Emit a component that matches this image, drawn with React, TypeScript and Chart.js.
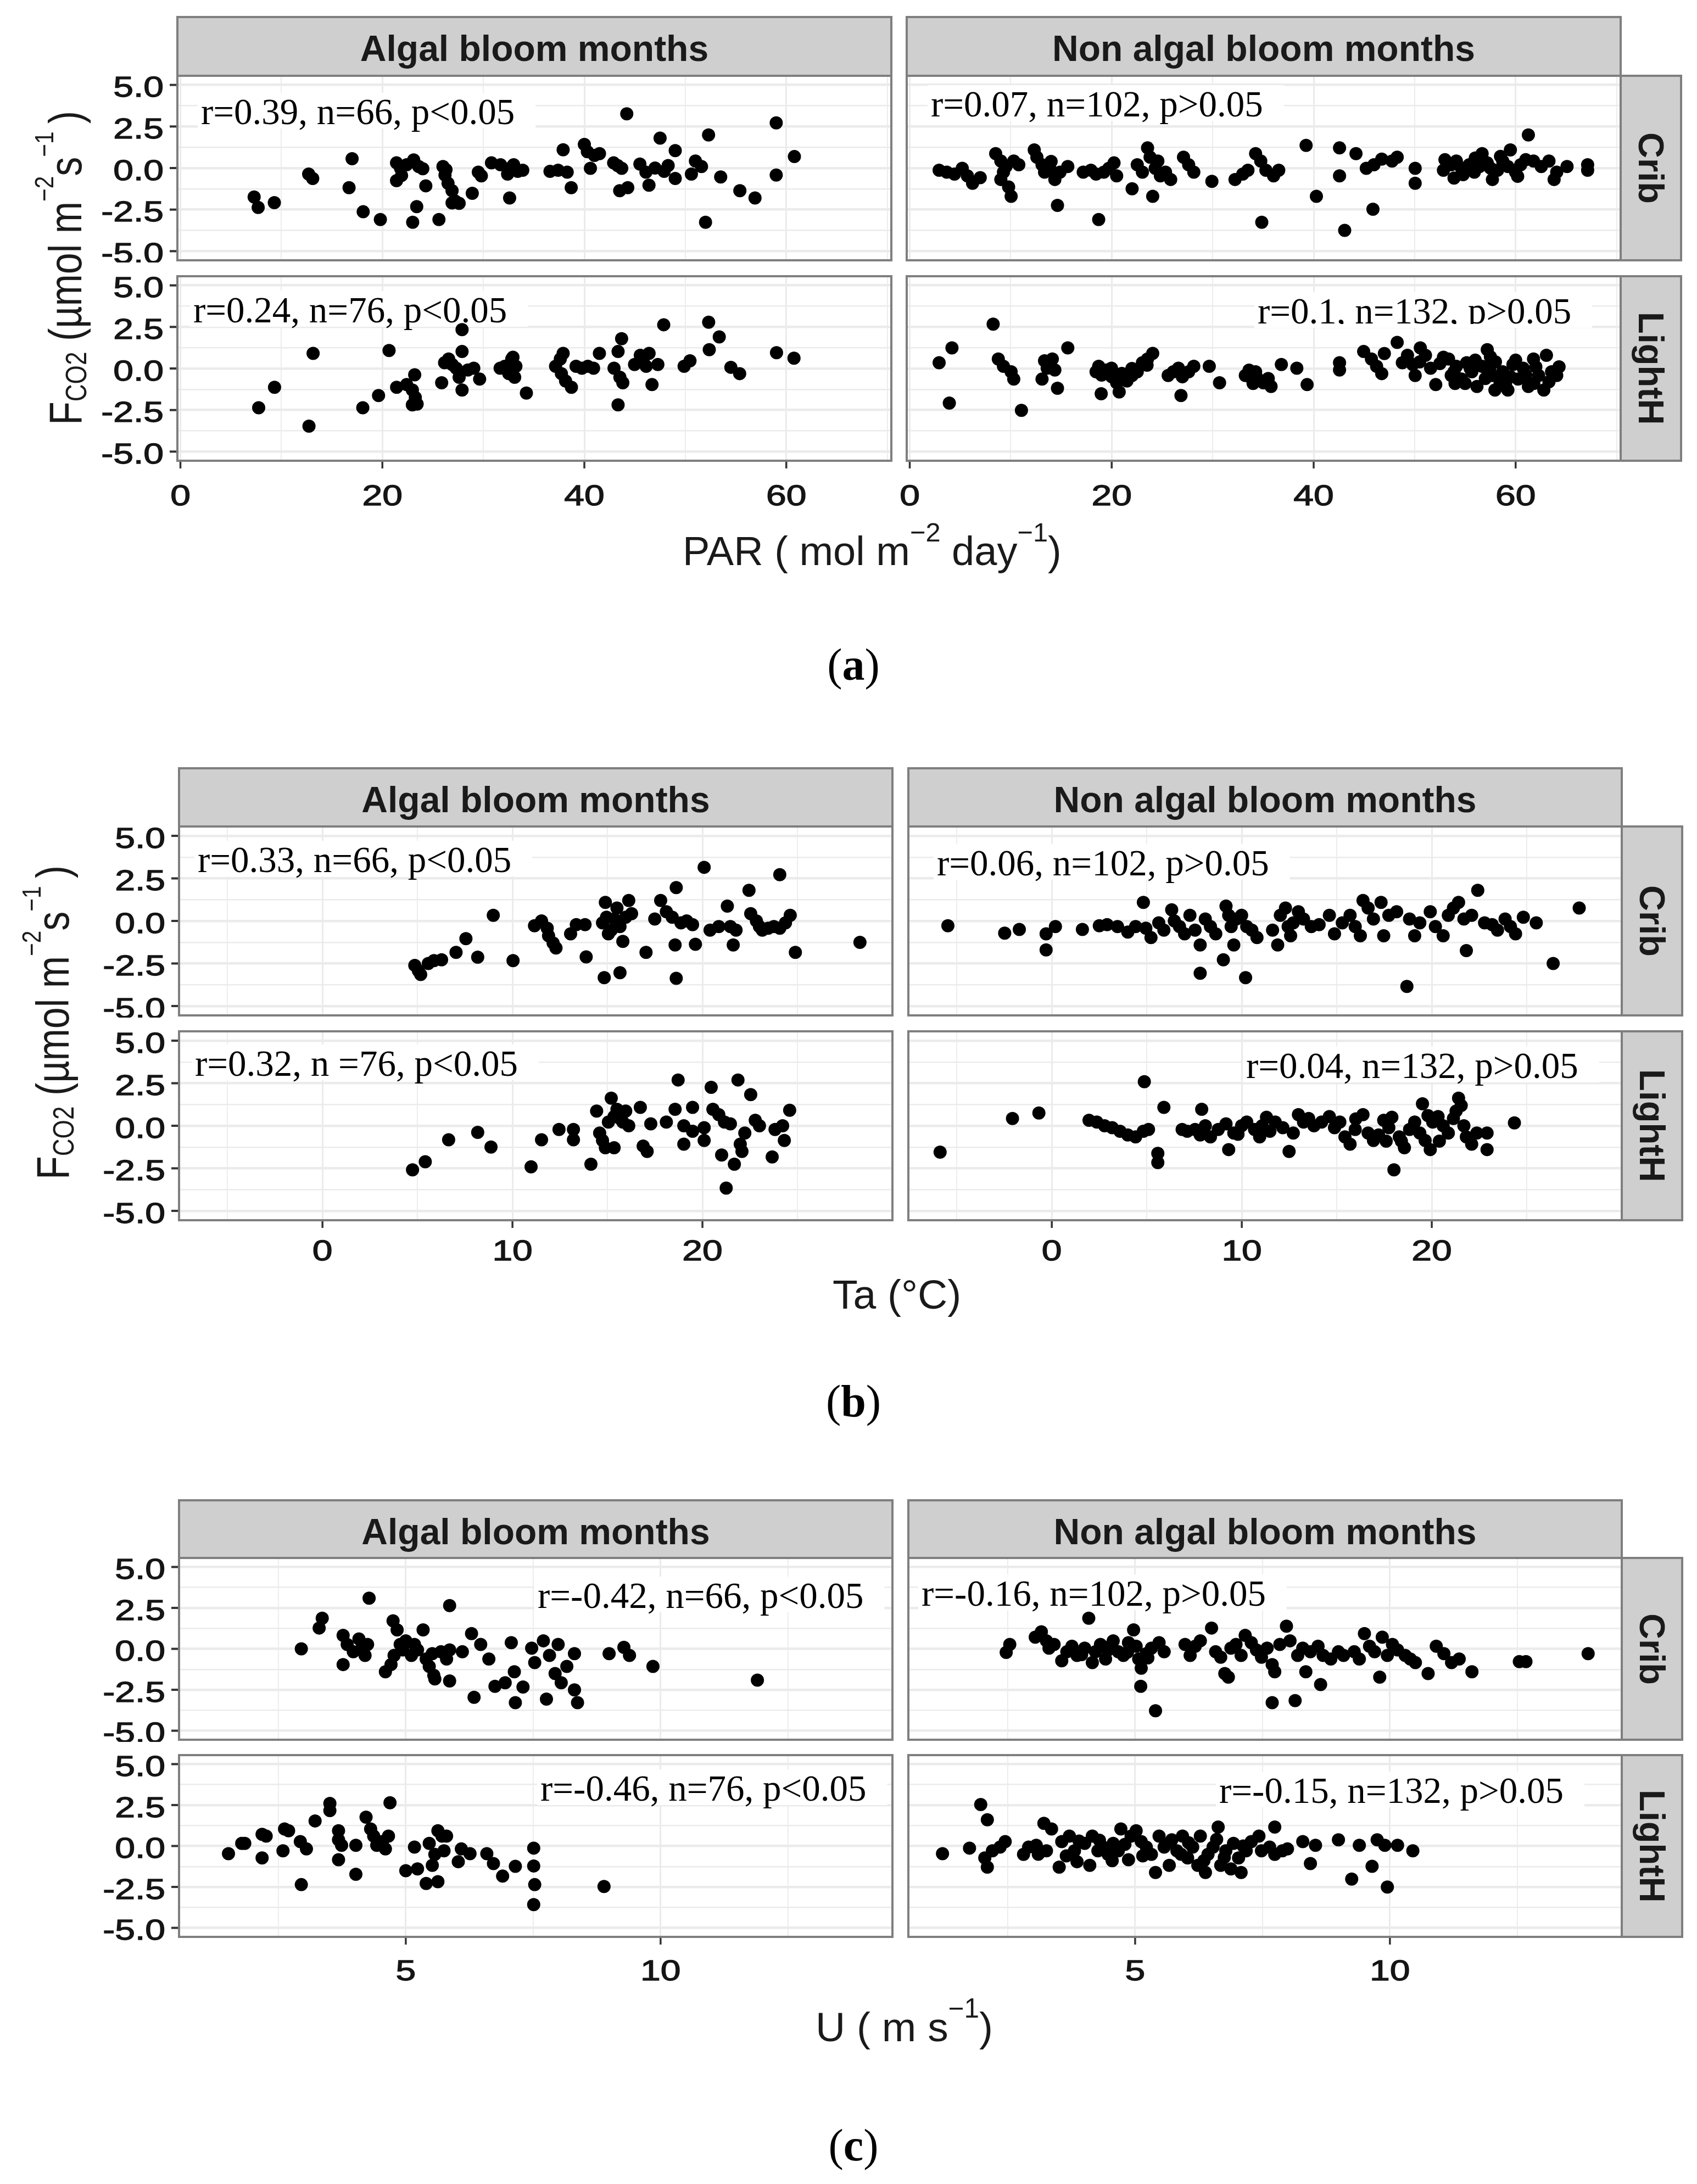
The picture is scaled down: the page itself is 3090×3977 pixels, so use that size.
import React, { useEffect, useRef } from 'react';
import { Chart, registerables } from 'chart.js';
Chart.register(...registerables);

type Pt = [number, number];

// ---------------- data ----------------
const columns = ['Algal bloom months', 'Non algal bloom months'];
const rows = ['Crib', 'LightH'];

const yTicks = [-5, -2.5, 0, 2.5, 5];
const yMinor = [-3.75, -1.25, 1.25, 3.75];
const fluxRange = [-5.55, 5.55];

const parTicks = [0, 20, 40, 60];
const parMinor = [10, 30, 50, 70];
const parRange = [-0.3, 70.4];
const taTicks = [0, 10, 20];
const taMinor = [-5, 5, 15, 25];
const taRange = [-7.55, 30.0];
const uTicks = [5, 10];
const uMinor = [2.5, 7.5, 12.5];
const uRange = [0.55, 14.55];

const statsA = ['r=0.39, n=66, p<0.05', 'r=0.07, n=102, p>0.05', 'r=0.24, n=76, p<0.05', 'r=0.1, n=132, p>0.05'];
const statsB = ['r=0.33, n=66, p<0.05', 'r=0.06, n=102, p>0.05', 'r=0.32, n =76, p<0.05', 'r=0.04, n=132, p>0.05'];
const statsC = ['r=-0.42, n=66, p<0.05', 'r=-0.16, n=102, p>0.05', 'r=-0.46, n=76, p<0.05', 'r=-0.15, n=132, p>0.05'];

// (a) PAR
const aCribAlgal: Pt[] = [
  [7.3,-1.74],[7.7,-2.37],[9.3,-2.08],[12.7,-0.36],[13.1,-0.63],[17.0,0.56],[16.7,-1.18],[18.1,-2.63],[19.8,-3.1],
  [21.4,0.31],[21.8,-0.02],[21.4,-0.76],[22.4,0.2],[23.1,0.49],[23.6,0.09],[24.0,-0.04],[21.9,-0.45],
  [23.0,-3.26],[23.4,-2.32],[24.3,-1.07],[25.6,-3.1],
  [26.0,0.09],[26.2,-0.42],[26.5,-0.92],[26.9,-1.36],[27.2,-1.98],[27.6,-2.12],[26.9,-2.1],[26.3,-0.1],
  [28.9,-1.52],[29.5,-0.25],[29.8,-0.47],
  [30.8,0.31],[31.7,0.2],[32.6,-0.02],[33.0,0.2],[32.6,-1.8],[33.4,-0.2],[33.9,-0.13],[32.4,-0.36],
  [36.6,-0.2],[37.4,-0.13],[37.9,1.1],[38.3,-0.25],[38.7,-1.18],
  [40.0,1.42],[40.3,0.98],[40.6,-0.02],[41.0,0.76],[41.5,0.87],
  [42.9,0.31],[43.3,0.15],[43.7,-0.02],[43.5,-1.36],[44.3,-1.18],[44.2,3.26],
  [45.5,0.24],[46.1,-0.25],[46.4,-1.03],[47.0,0.0],[47.5,1.8],[47.9,-0.2],[48.3,0.15],[49.0,1.05],[49.0,-0.63],
  [50.6,-0.36],[51.0,0.42],[51.6,0.09],[52.3,1.99],[52.0,-3.26],[53.5,-0.54],[55.4,-1.36],[56.9,-1.8],[59.0,2.72],[59.0,-0.42],[60.8,0.69]
];
const aCribNon: Pt[] = [
  [2.91,-0.13],[3.67,-0.25],[4.43,-0.36],[5.2,-0.02],[5.71,-0.47],[6.22,-0.92],[6.98,-0.58],[8.51,0.87],[9.02,0.42],[9.53,0.09],
  [9.02,-0.69],[9.79,-1.14],[10.04,-1.7],[9.28,-0.25],[10.3,0.42],[12.33,1.09],[12.59,0.65],[13.1,0.2],[13.35,-0.25],[13.86,-0.02],
  [14.37,-0.69],[14.63,-2.25],[14.88,-0.25],[15.65,0.09],[18.71,-3.1],[17.18,-0.25],[17.94,-0.13],[18.45,-0.36],[19.22,-0.25],[19.72,-0.02],
  [20.23,0.31],[20.49,-0.47],[22.02,-1.25],[22.53,0.2],[23.04,-0.25],[23.55,1.21],[23.8,0.65],[24.06,-1.7],[24.31,-0.02],[24.57,0.42],
  [24.82,-0.47],[25.33,-0.25],[25.84,-0.69],[27.11,0.65],[27.62,0.2],[28.13,-0.25],[29.92,-0.8],[32.21,-0.69],[32.98,-0.36],[33.49,-0.13],
  [34.25,0.87],[34.76,0.42],[35.27,-0.13],[36.03,-0.47],[36.54,-0.13],[34.86,-3.26],[39.25,1.36],[40.27,-1.7],[42.56,1.21],[42.56,-0.47],
  [44.19,0.87],[43.07,-3.75],[45.87,-2.48],[45.21,-0.02],[45.97,0.2],[46.74,0.54],[47.76,0.42],[48.27,0.65],[50.05,-0.02],[50.05,-0.92],
  [52.85,-0.13],[53.62,0.2],[54.13,0.42],[54.64,-0.02],[55.4,0.2],[55.91,-0.25],[56.42,0.09],[56.68,0.87],[57.19,0.31],[57.7,-0.69],
  [58.21,-0.13],[58.72,0.42],[59.23,0.09],[59.48,1.09],[59.99,-0.25],[60.5,0.2],[61.26,1.99],[61.77,0.42],[62.54,0.09],[63.3,0.42],
  [63.81,-0.69],[64.07,-0.25],[65.09,0.09],[67.13,0.2],[67.13,-0.13],
  [53.0,0.5],[54.8,-0.4],[56.0,0.6],[57.5,0.0],[58.5,0.7],[60.2,-0.5],[61.0,0.5],[53.9,-0.6],[10.8,0.2],[14.0,0.4]
];
const aLightAlgal: Pt[] = [
  [7.75,-2.36],[9.32,-1.13],[12.73,-3.47],[13.14,0.91],[18.06,-2.36],[19.62,-1.63],[20.66,1.08],[21.41,-1.13],[22.4,-0.97],[22.97,-1.3],
  [23.2,-0.38],[23.26,-1.74],[22.97,-2.19],[23.44,-2.14],[25.87,-0.86],[26.16,0.35],[26.56,0.57],[26.91,0.24],[27.31,0.02],[27.6,-0.53],
  [27.89,1.02],[27.89,2.34],[27.89,-1.3],[28.47,-0.09],[29.05,0.02],[29.63,-0.64],[31.66,0.02],[32.12,0.13],[32.52,-0.31],[32.81,0.57],
  [33.1,-0.53],[33.22,0.13],[32.93,0.68],[34.26,-1.48],[37.15,0.13],[37.62,0.57],[37.73,-0.31],[38.14,-0.75],[38.72,-1.13],[37.9,0.91],
  [39.18,0.13],[39.76,0.02],[40.34,0.13],[40.91,0.02],[41.49,0.91],[42.94,0.02],[43.34,1.02],[43.69,1.79],[43.52,-0.53],[43.81,-0.86],
  [43.34,-2.19],[44.97,0.24],[45.54,0.79],[45.83,0.57],[46.12,0.13],[46.41,0.91],[46.7,-0.97],[47.28,0.24],[47.86,2.63],[49.88,0.13],
  [50.46,0.46],[52.31,2.78],[52.37,1.13],[53.36,1.9],[54.51,0.07],[55.38,-0.31],[59.03,0.95],[60.76,0.62]
];
const aLightNon: Pt[] = [
  [2.91,0.35],[4.18,1.24],[3.92,-2.08],[8.26,2.67],[8.77,0.57],[9.28,0.13],[10.04,-0.2],[10.3,-0.64],[11.06,-2.52],[13.1,-0.64],
  [13.35,0.46],[13.61,0.02],[14.12,0.57],[14.37,-0.09],[14.63,-1.19],[15.65,1.24],[18.45,-0.2],[18.71,0.13],[18.96,-1.52],[19.47,-0.09],
  [19.98,0.02],[20.49,-0.86],[20.74,-1.41],[21.51,-0.75],[22.02,-0.42],[22.53,-0.2],[23.04,0.35],[23.55,0.57],[24.06,0.91],[25.59,-0.42],
  [26.1,-0.2],[26.61,0.02],[26.86,-1.63],[27.62,-0.2],[28.13,0.13],[29.66,0.13],[30.68,-0.86],[33.23,-0.42],[33.74,-0.53],[34.25,-0.2],
  [34.51,-0.64],[35.02,-0.86],[35.78,-1.08],[36.8,0.24],[38.33,0.02],[39.35,-0.97],[42.56,0.35],[42.56,-0.09],[44.95,1.02],[45.72,0.57],
  [46.23,0.13],[46.74,-0.31],[48.27,1.57],[48.78,0.35],[49.29,0.79],[49.8,0.24],[50.05,-0.42],[50.56,1.24],[51.07,0.79],[51.58,0.02],
  [52.09,-0.97],[52.85,0.68],[53.36,0.57],[53.62,-0.42],[54.13,0.13],[54.64,-0.64],[55.15,0.35],[55.66,-0.2],[56.17,-1.08],[56.68,0.13],
  [57.19,1.13],[57.44,0.02],[57.7,-0.42],[57.95,-1.3],[58.46,-0.86],[58.72,-0.2],[59.23,-1.3],[59.73,0.24],[60.24,-0.64],[60.75,0.02],
  [61.26,-1.08],[61.77,0.57],[62.28,-0.42],[62.79,-1.3],[63.05,0.79],[63.56,-0.2],[64.07,-0.42],
  [52.5,0.3],[53.9,-0.2],[55.0,-0.9],[56.0,0.5],[57.0,-0.6],[58.0,0.4],[59.0,-0.9],[60.0,0.5],[61.0,-0.4],[62.0,0.1],
  [63.3,-0.8],[64.3,0.1],[59.5,-0.5],[57.5,0.7],[55.5,0.0],[54.0,-0.9],[22.0,0.0],[20.0,-0.5],[34.0,-0.9],[47.0,0.9],
  [19.0,-0.4],[21.0,-0.3],[23.5,0.2],[27.0,-0.5],[33.6,-0.1],[35.5,-0.6],[50.5,0.4],[61.8,-0.9]
];

// (b) Ta
const bCribAlgal: Pt[] = [
  [4.86,-2.61],[5.05,-2.93],[5.17,-3.15],[5.57,-2.5],[5.87,-2.33],[6.27,-2.28],[7.03,-1.85],[7.55,-1.04],[8.17,-2.13],[8.99,0.33],
  [10.03,-2.33],[11.16,-0.28],[11.53,0],[11.83,-0.43],[11.9,-0.87],[12.14,-1.3],[12.29,-1.59],[13.06,-0.76],[13.36,-0.22],[13.82,-0.22],
  [13.88,-2.11],[14.74,-0.11],[14.89,1.09],[14.95,0.22],[15.05,-0.76],[15.2,-0.54],[15.35,0.11],[15.5,0.76],[15.66,-0.33],[15.81,-1.2],
  [15.96,0.22],[16.12,1.2],[16.27,0.43],[14.83,-3.33],[15.66,-3.04],[17.03,-1.85],[17.49,0.11],[17.8,1.2],[18.1,0.54],[18.41,0.22],
  [18.56,-1.41],[18.62,1.96],[18.62,-3.37],[18.87,-0.11],[19.17,0],[19.48,-0.22],[19.63,-1.37],[20.09,3.15],[20.4,-0.54],[20.86,-0.33],
  [21.31,0.87],[21.47,-0.33],[21.62,-1.41],[21.77,-0.54],[22.45,1.8],[22.54,0.43],[22.84,0],[23.0,-0.33],[23.15,-0.54],[23.46,-0.43],
  [23.76,-0.33],[24.07,-0.43],[24.37,-0.11],[24.62,0.33],[24.07,2.72],[24.89,-1.85],[28.29,-1.26]
];
const bCribNon: Pt[] = [
  [-5.47,-0.28],[-2.48,-0.72],[-1.71,-0.5],[-0.3,-0.76],[-0.3,-1.7],[0.19,-0.33],[1.61,-0.5],[2.5,-0.28],[2.91,-0.22],[3.46,-0.33],
  [4.0,-0.65],[4.41,-0.33],[4.82,1.09],[4.95,-0.43],[5.22,-0.98],[5.63,-0.11],[5.9,-0.54],[6.31,0.65],[6.45,0],[6.72,-0.33],
  [6.99,-0.76],[7.27,0.33],[7.54,-0.54],[7.81,-1.41],[7.81,-3.07],[8.08,0.11],[8.35,-0.33],[8.63,-0.76],[9.03,-2.28],[9.17,0.87],
  [9.31,0.33],[9.44,-0.33],[9.58,-1.41],[9.71,0.11],[9.99,0.33],[10.2,-3.33],[10.26,-0.33],[10.53,-0.54],[10.8,-0.98],[11.62,-0.54],
  [11.89,-1.41],[12.03,0.33],[12.3,0.76],[12.44,-0.33],[12.57,-0.87],[12.71,-0.11],[12.98,0.54],[13.25,0.11],[13.66,-0.33],[14.07,-0.22],
  [14.61,0.33],[14.88,-0.76],[15.29,-0.11],[15.7,0.33],[15.97,-0.33],[16.24,-0.87],[16.38,1.2],[16.65,0.76],[16.93,0.11],[17.33,1.09],
  [17.47,-0.87],[17.74,0.33],[18.15,0.54],[18.69,-3.85],[18.83,0.11],[19.1,-0.87],[19.37,-0.11],[19.92,0.54],[20.19,-0.33],[20.6,-0.87],
  [20.87,0.33],[21.14,0.76],[21.41,1.09],[21.69,0.11],[21.82,-1.74],[22.1,0.33],[22.42,1.8],[22.78,-0.11],[23.18,-0.22],[23.46,-0.54],
  [23.86,0.11],[24.14,-0.33],[24.41,-0.76],[24.82,0.22],[25.5,-0.11],[26.39,-2.5],[27.76,0.76]
];
const bLightAlgal: Pt[] = [
  [4.74,-2.59],[5.41,-2.11],[6.64,-0.82],[8.17,-0.39],[8.87,-1.25],[10.98,-2.41],[11.53,-0.82],[12.45,-0.22],[13.21,-0.22],[13.21,-0.82],
  [14.13,-2.26],[14.43,0.86],[14.59,-0.43],[14.74,-0.86],[14.89,-1.29],[15.05,0.22],[15.2,1.62],[15.35,0.54],[15.5,0.97],[15.66,0.43],
  [15.81,0.22],[15.96,0.86],[16.12,0],[15.35,-1.29],[16.73,1.08],[16.88,-1.19],[17.09,-1.51],[17.28,0.11],[18.1,0.22],[18.56,0.97],
  [18.72,2.69],[19.02,0],[19.02,-1.08],[19.48,1.08],[19.48,-0.32],[20.09,-0.11],[20.09,-0.86],[20.46,2.26],[20.55,0.97],[20.86,0.65],
  [21.01,-1.72],[21.16,0.22],[21.25,-3.66],[21.47,0.11],[21.68,-2.26],[21.87,2.69],[21.99,-1.08],[22.08,-1.51],[22.23,-0.43],[22.54,1.83],
  [22.78,0.32],[23.0,0],[23.67,-1.83],[23.82,-0.22],[24.22,0],[24.31,-0.86],[24.59,0.91]
];
const bLightNon: Pt[] = [
  [-5.88,-1.55],[-2.07,0.43],[-0.68,0.75],[1.96,0.32],[2.37,0.22],[2.78,0],[3.18,-0.11],[3.59,-0.32],[4.0,-0.54],[4.41,-0.65],
  [4.82,-0.32],[4.87,2.59],[5.09,-0.22],[5.58,-1.62],[5.58,-2.16],[5.9,1.08],[6.86,-0.22],[7.13,-0.32],[7.54,-0.22],[7.81,-0.54],
  [7.89,0.97],[8.08,0],[8.35,-0.65],[8.76,-0.22],[9.17,0.11],[9.31,-1.4],[9.58,-0.43],[9.99,0],[10.26,0.22],[10.67,-0.22],
  [10.94,-0.65],[11.07,0],[11.48,-0.32],[11.76,0.22],[12.16,-0.11],[12.49,-1.51],[12.71,-0.43],[12.98,0.65],[13.25,0.22],[13.52,0.43],
  [13.8,0],[14.2,0.22],[14.61,0.54],[14.88,-0.11],[15.16,0.22],[15.43,-0.65],[15.7,-1.08],[15.97,-0.22],[16.38,0.65],[16.65,-0.43],
  [16.93,-0.86],[17.2,-0.54],[17.47,0.32],[17.74,-0.11],[18.01,-2.59],[18.29,-0.65],[18.56,-1.29],[18.83,-0.22],[19.1,0.22],[19.37,-0.43],
  [19.51,1.29],[19.65,-0.86],[19.92,-1.4],[20.05,0.22],[20.33,0.54],[20.6,0],[20.87,-0.43],[21.14,0.43],[21.28,0.86],[21.41,1.62],
  [21.55,1.19],[21.69,0],[21.82,-0.65],[22.1,-1.08],[22.37,-0.43],[22.91,-1.4],[22.91,-0.43],[24.35,0.17],
  [17.6,-0.9],[18.4,-0.9],[19.8,0.6],[20.4,-0.9],[17.9,0.5],[16.0,0.4],[9.8,-0.5],[11.3,0.5]
];

// (c) U
const cCribAlgal: Pt[] = [
  [2.95,0],[3.3,1.27],[3.36,1.87],[3.77,0.82],[3.77,-0.96],[3.85,0.27],[3.97,-0.18],[4.08,0.6],[4.14,0.04],[4.2,-0.4],
  [4.25,0.27],[4.28,3.09],[4.6,-1.4],[4.71,-0.96],[4.75,1.71],[4.77,-0.4],[4.83,1.16],[4.89,0.27],[4.94,-0.07],[5.0,0.49],
  [5.11,-0.4],[5.17,0.27],[5.23,-0.07],[5.34,1.16],[5.4,-0.62],[5.46,-1.07],[5.52,-0.29],[5.55,-1.62],[5.57,-1.84],[5.69,-0.18],
  [5.8,-0.62],[5.86,-0.07],[5.86,-1.96],[5.86,2.64],[6.11,-0.18],[6.29,0.93],[6.34,-2.96],[6.47,0.27],[6.63,-0.62],[6.75,-2.29],
  [6.95,-2.07],[7.07,0.38],[7.13,-1.4],[7.15,-3.29],[7.3,-2.33],[7.47,0.04],[7.53,-0.84],[7.7,0.49],[7.76,-3.07],[7.82,-0.4],
  [7.93,-1.51],[7.99,0.27],[8.05,-2.07],[8.16,-1.07],[8.31,-0.29],[8.31,-2.51],[8.37,-3.29],[8.99,-0.29],[9.28,0.09],[9.39,-0.4],
  [9.85,-1.07],[11.9,-1.91]
];
const cCribNon: Pt[] = [
  [2.47,-0.22],[2.54,0.27],[3.04,0.71],[3.16,1.04],[3.26,0.49],[3.31,0.04],[3.41,0.27],[3.56,-0.73],[3.66,-0.18],[3.76,0.16],
  [3.86,-0.4],[4.01,0.04],[4.09,1.87],[4.16,-0.84],[4.22,-0.18],[4.32,0.27],[4.42,-0.62],[4.47,-0.07],[4.57,0.49],[4.67,-0.18],
  [4.77,-0.4],[4.87,0.38],[4.97,1.16],[5.02,0.16],[5.07,-0.62],[5.12,-1.18],[5.11,-2.29],[5.22,-0.29],[5.32,0.04],[5.4,-3.78],
  [5.47,0.38],[5.57,-0.18],[5.98,0.27],[6.08,-0.4],[6.18,0.16],[6.28,0.49],[6.5,1.27],[6.58,-0.18],[6.68,-0.51],[6.76,-1.51],
  [6.83,-1.73],[6.88,0.04],[6.98,0.27],[7.08,-0.4],[7.16,0.82],[7.28,0.38],[7.38,-0.07],[7.48,-0.51],[7.59,0.04],[7.69,-0.96],
  [7.74,-1.4],[7.69,-3.29],[7.84,0.27],[7.97,1.38],[8.04,0.49],[8.14,-3.16],[8.19,-0.4],[8.29,0.04],[8.35,-1.4],[8.44,-0.18],
  [8.59,0.16],[8.64,-2.18],[8.69,-0.4],[8.84,-0.62],[8.99,-0.18],[9.09,-0.4],[9.3,-0.18],[9.4,-0.62],[9.5,0.93],[9.6,0.16],
  [9.7,-0.18],[9.8,-1.73],[9.85,0.71],[9.95,-0.4],[10.05,0.27],[10.15,-0.07],[10.3,-0.4],[10.4,-0.62],[10.5,-0.84],[10.75,-1.51],
  [10.91,0.16],[11.06,-0.29],[11.21,-0.84],[11.36,-0.62],[11.61,-1.4],[12.54,-0.78],[12.67,-0.78],[13.89,-0.29],
  [4.4,0.1],[5.25,-0.55],[3.95,-0.35],[4.85,-0.2]
];
const cLightAlgal: Pt[] = [
  [1.52,-0.47],[1.78,0.16],[1.84,0.16],[2.18,0.71],[2.18,-0.73],[2.26,0.6],[2.59,-0.29],[2.62,1.04],[2.7,0.93],[2.93,0.27],
  [2.95,-2.36],[3.05,-0.18],[3.22,1.53],[3.51,2.6],[3.51,2.16],[3.68,0.93],[3.68,0.38],[3.68,-0.84],[3.74,0.04],[4.02,-1.73],
  [4.02,0.04],[4.22,1.76],[4.31,1.04],[4.37,0.6],[4.43,0.04],[4.54,0.27],[4.6,-0.18],[4.69,2.64],[4.66,0.6],[5.0,-1.51],
  [5.17,-0.07],[5.23,-1.4],[5.4,-2.29],[5.46,0.16],[5.52,-1.18],[5.57,-0.51],[5.63,0.93],[5.63,-2.18],[5.71,0.6],[5.75,-0.29],
  [5.8,0.6],[6.03,-0.96],[6.09,-0.18],[6.26,-0.47],[6.59,-0.47],[6.72,-1.07],[6.9,-1.84],[7.15,-1.24],[7.51,-0.13],[7.51,-1.22],
  [7.53,-2.36],[7.51,-3.58],[8.89,-2.47]
];
const cLightNon: Pt[] = [
  [1.22,-0.47],[1.75,-0.13],[1.97,2.53],[2.1,1.6],[2.05,-0.73],[2.1,-1.29],[2.2,-0.29],[2.35,-0.07],[2.45,0.27],[2.81,-0.51],
  [2.91,-0.07],[3.06,0.04],[3.21,1.38],[3.26,-0.29],[3.36,1.04],[3.51,-1.29],[3.56,0.27],[3.71,0.6],[3.81,-0.29],[3.86,-0.96],
  [4.01,0.16],[4.11,-1.18],[4.16,0.6],[4.27,-0.29],[4.37,-0.07],[4.47,-0.51],[4.57,0.16],[4.67,-0.29],[4.72,1.04],[4.87,-0.84],
  [4.92,0.6],[5.02,0.93],[5.12,0.27],[5.22,-0.07],[5.32,-0.51],[5.4,-1.62],[5.47,0.6],[5.57,-0.07],[5.67,-1.18],[5.72,0.38],
  [5.82,-0.29],[5.93,0.6],[6.03,-0.73],[6.13,-0.07],[6.23,-1.18],[6.28,0.6],[6.38,-1.62],[6.43,-0.51],[6.53,-0.07],[6.63,1.16],
  [6.68,-1.18],[6.78,-0.29],[6.88,-1.4],[6.93,0.16],[7.03,-0.73],[7.08,-1.62],[7.18,-0.29],[7.28,0.27],[7.43,0.6],[7.48,-0.29],
  [7.64,-0.07],[7.74,1.16],[7.74,-0.51],[7.89,-0.29],[7.99,-0.18],[8.29,0.27],[8.44,-1.07],[8.54,0.04],[8.99,0.38],[9.25,-2.02],
  [9.4,0.04],[9.65,-1.24],[9.75,0.38],[9.9,0.04],[9.95,-2.51],[10.15,0.04],[10.45,-0.29],
  [3.1,-0.5],[3.65,-0.6],[4.3,0.35],[4.55,-0.9],[5.15,-0.6],[5.6,0.1],[6.05,0.2],[6.35,-0.9],[6.75,-0.7],[7.12,0.0],
  [3.9,0.3],[4.8,0.1],[5.9,-0.5],[6.6,0.4]
];

// ---------------- layout / style ----------------
const SANS = '"Liberation Sans", Arial, Helvetica, sans-serif';
const SERIF = '"Liberation Serif", "Times New Roman", Times, serif';
const BORDER = '#7f7f7f';
const STRIP_BG = '#cfcfcf';
const GRID = '#ebebeb';
const TEXT = '#1a1a1a';

interface FigSpec {
  stripTop: number; top: number; h: number; rowGap: number;
  left: number; w: number; colGap: number; stripW: number;
  data: Pt[][]; stats: string[]; ann: number[][]; clipStat: boolean[];
  xRange: number[]; xTicks: number[]; xMinor: number[]; xLabelDy: number;
}

const FIGS: FigSpec[] = [
  {
    stripTop: 29, top: 138, h: 336, rowGap: 29, left: 323, w: 1300, colGap: 28, stripW: 110,
    data: [aCribAlgal, aCribNon, aLightAlgal, aLightNon], stats: statsA,
    ann: [[43, 88], [44, 74], [29, 84], [639, 86]], clipStat: [false, false, false, true],
    xRange: parRange, xTicks: parTicks, xMinor: parMinor, xLabelDy: 62,
  },
  {
    stripTop: 1397, top: 1505, h: 344, rowGap: 29, left: 326, w: 1299, colGap: 29, stripW: 110,
    data: [bCribAlgal, bCribNon, bLightAlgal, bLightNon], stats: statsB,
    ann: [[34, 83], [52, 89], [29, 81], [615, 85]], clipStat: [false, false, false, false],
    xRange: taRange, xTicks: taTicks, xMinor: taMinor, xLabelDy: 54,
  },
  {
    stripTop: 2730, top: 2837, h: 331, rowGap: 28, left: 326, w: 1299, colGap: 29, stripW: 110,
    data: [cCribAlgal, cCribNon, cLightAlgal, cLightNon], stats: statsC,
    ann: [[653, 91], [24, 87], [658, 83], [566, 87]], clipStat: [false, false, false, false],
    xRange: uRange, xTicks: uTicks, xMinor: uMinor, xLabelDy: 60,
  },
];

const TICK_PX = 52;
const TICK_FONT = `${TICK_PX}px ${SANS}`;
const TICK_SX = 1.27;

function drawTickText(ctx: any, text: string) {
  ctx.fillText(text, 0, 0);
  ctx.lineWidth = 1.3;
  ctx.strokeText(text, 0, 0);
}

function makeDeco(fig: FigSpec, idx: number) {
  const row = idx >> 1;
  const col = idx & 1;
  return {
    id: 'facetDeco',
    beforeDatasetsDraw(chart: any) {
      const { ctx, chartArea: a } = chart;
      const stat = fig.stats[idx];
      ctx.save();
      ctx.beginPath();
      ctx.rect(a.left, a.top, a.right - a.left, a.bottom - a.top);
      ctx.clip();
      ctx.font = `67px ${SERIF}`;
      const tw = ctx.measureText(stat).width;
      const x0 = a.left + fig.ann[idx][0];
      const by = a.top + fig.ann[idx][1];
      ctx.fillStyle = '#ffffff';
      ctx.fillRect(x0 - 6, by - 57, tw + 44, 65);
      if (fig.clipStat[idx]) {
        ctx.beginPath();
        ctx.rect(a.left, a.top, a.right - a.left, by + 1 - a.top);
        ctx.clip();
      }
      ctx.fillStyle = '#000000';
      ctx.textAlign = 'left';
      ctx.textBaseline = 'alphabetic';
      ctx.fillText(stat, x0, by);
      ctx.restore();
    },
    afterDraw(chart: any) {
      const { ctx, chartArea: a, scales } = chart;
      ctx.save();
      ctx.strokeStyle = BORDER;
      ctx.lineWidth = 4;
      ctx.strokeRect(a.left, a.top, a.right - a.left, a.bottom - a.top);
      ctx.font = TICK_FONT;
      ctx.textBaseline = 'alphabetic';
      const half = 0.358 * TICK_PX;
      if (col === 0) {
        for (const v of yTicks) {
          const py = scales.y.getPixelForValue(v);
          ctx.strokeStyle = '#333333';
          ctx.lineWidth = 4;
          ctx.beginPath();
          ctx.moveTo(a.left - 14, py);
          ctx.lineTo(a.left - 2, py);
          ctx.stroke();
          ctx.save();
          ctx.translate(a.left - 25, py + 3 + half);
          ctx.scale(TICK_SX, 1);
          ctx.textAlign = 'right';
          ctx.fillStyle = '#151515';
          ctx.strokeStyle = '#151515';
          drawTickText(ctx, v.toFixed(1));
          ctx.restore();
        }
      }
      if (row === 1) {
        for (const v of fig.xTicks) {
          const px = scales.x.getPixelForValue(v);
          ctx.strokeStyle = '#333333';
          ctx.lineWidth = 3.5;
          ctx.beginPath();
          ctx.moveTo(px, a.bottom + 2);
          ctx.lineTo(px, a.bottom + 14);
          ctx.stroke();
          ctx.save();
          ctx.translate(px, a.bottom + fig.xLabelDy + half);
          ctx.scale(TICK_SX, 1);
          ctx.textAlign = 'center';
          ctx.fillStyle = '#151515';
          ctx.strokeStyle = '#151515';
          drawTickText(ctx, String(v));
          ctx.restore();
        }
      }
      ctx.restore();
    },
  };
}

function Panel({ fig, idx }: { fig: FigSpec; idx: number }) {
  const ref = useRef<HTMLCanvasElement>(null);
  const row = idx >> 1;
  const col = idx & 1;
  const pl = fig.left + col * (fig.w + fig.colGap);
  const pt = fig.top + row * (fig.h + fig.rowGap);
  const padL = col === 0 ? 200 : 60;
  const padB = row === 1 ? 110 : 4;
  const padT = 4;
  const padR = 4;

  useEffect(() => {
    const pts = fig.data[idx].map(([x, y]) => ({ x, y }));
    const xAll = [...fig.xTicks, ...fig.xMinor].sort((p, q) => p - q);
    const yAll = [...yTicks, ...yMinor].sort((p, q) => p - q);
    const chart = new Chart(ref.current as HTMLCanvasElement, {
      type: 'scatter',
      data: {
        datasets: [
          {
            data: pts,
            pointRadius: 12,
            pointHoverRadius: 12,
            pointBackgroundColor: '#000000',
            backgroundColor: '#000000',
            pointBorderWidth: 0,
            borderWidth: 0,
            showLine: false,
          } as any,
        ],
      },
      options: {
        animation: false,
        responsive: true,
        maintainAspectRatio: false,
        devicePixelRatio: 1,
        events: [],
        layout: { padding: { left: padL, right: padR, top: padT, bottom: padB }, autoPadding: false } as any,
        plugins: { legend: { display: false }, tooltip: { enabled: false } },
        scales: {
          x: {
            type: 'linear',
            min: fig.xRange[0],
            max: fig.xRange[1],
            bounds: 'data',
            ticks: { display: false },
            border: { display: false },
            grid: {
              drawTicks: false,
              color: GRID,
              lineWidth: (c: any) => (fig.xTicks.includes(c.tick?.value) ? 3 : 1.8),
            },
            afterBuildTicks: (s: any) => {
              s.ticks = xAll.map((v) => ({ value: v }));
            },
          },
          y: {
            type: 'linear',
            min: fluxRange[0],
            max: fluxRange[1],
            bounds: 'data',
            ticks: { display: false },
            border: { display: false },
            grid: {
              drawTicks: false,
              color: GRID,
              lineWidth: (c: any) => (yTicks.includes(c.tick?.value) ? 4.5 : 2.4),
            },
            afterBuildTicks: (s: any) => {
              s.ticks = yAll.map((v) => ({ value: v }));
            },
          },
        } as any,
      },
      plugins: [makeDeco(fig, idx) as any],
    });
    return () => chart.destroy();
  }, [fig, idx]);

  return (
    <div
      style={{
        position: 'absolute',
        left: pl - padL,
        top: pt - padT,
        width: fig.w + padL + padR,
        height: fig.h + padT + padB,
      }}
    >
      <canvas ref={ref} />
    </div>
  );
}

function Strips({ fig }: { fig: FigSpec }) {
  const items: React.ReactNode[] = [];
  for (let col = 0; col < 2; col++) {
    const pl = fig.left + col * (fig.w + fig.colGap);
    items.push(
      <div
        key={'t' + col}
        style={{
          position: 'absolute',
          left: pl - 2,
          top: fig.stripTop,
          width: fig.w + 4,
          height: fig.top - fig.stripTop + 2,
          boxSizing: 'border-box',
          border: `4px solid ${BORDER}`,
          background: STRIP_BG,
        }}
      >
        <div
          style={{
            position: 'absolute',
            left: 0,
            right: 0,
            top: 82 - 4 - 0.8465 * 66,
            textAlign: 'center',
            fontFamily: SANS,
            fontWeight: 700,
            fontSize: 66,
            lineHeight: '66px',
            color: TEXT,
            whiteSpace: 'nowrap',
          }}
        >
          {columns[col]}
        </div>
      </div>
    );
  }
  const sl = fig.left + 2 * fig.w + fig.colGap;
  for (let row = 0; row < 2; row++) {
    const pt = fig.top + row * (fig.h + fig.rowGap);
    items.push(
      <div
        key={'r' + row}
        style={{
          position: 'absolute',
          left: sl - 2,
          top: pt - 2,
          width: fig.stripW + 4,
          height: fig.h + 4,
          boxSizing: 'border-box',
          border: `4px solid ${BORDER}`,
          background: STRIP_BG,
          display: 'flex',
          alignItems: 'center',
          justifyContent: 'center',
        }}
      >
        <span
          style={{
            writingMode: 'vertical-rl',
            fontFamily: SANS,
            fontWeight: 700,
            fontSize: 65,
            lineHeight: '65px',
            color: TEXT,
            whiteSpace: 'nowrap',
          }}
        >
          {rows[row]}
        </span>
      </div>
    );
  }
  return <>{items}</>;
}

const supStyle = (size: string, raise: number): React.CSSProperties => ({
  fontSize: size,
  verticalAlign: `${raise}px`,
  lineHeight: 0,
});

function XTitle({ left, baseline, size, children }: { left: number; baseline: number; size: number; children: React.ReactNode }) {
  return (
    <div
      style={{
        position: 'absolute',
        left,
        top: baseline - 0.8465 * size,
        fontFamily: SANS,
        fontSize: size,
        lineHeight: `${size}px`,
        color: TEXT,
        whiteSpace: 'nowrap',
      }}
    >
      {children}
    </div>
  );
}

function YTitle({ cx, cy }: { cx: number; cy: number }) {
  return (
    <div
      style={{
        position: 'absolute',
        left: cx,
        top: cy,
        transform: 'translate(-50%, -50%) rotate(-90deg) scale(1, 1.2)',
        fontFamily: SANS,
        fontSize: 70,
        lineHeight: '70px',
        color: TEXT,
        whiteSpace: 'nowrap',
      }}
    >
      F<span style={{ fontSize: '0.63em', verticalAlign: '-8px', lineHeight: 0 }}>CO2</span> (µmol m
      <span style={supStyle('0.58em', 42)}>−2</span>s<span style={supStyle('0.58em', 42)}>−1</span>
      {'\u2009'})
    </div>
  );
}

function FigLabel({ letter, baseline }: { letter: string; baseline: number }) {
  return (
    <div
      style={{
        position: 'absolute',
        left: 1554,
        top: baseline - 0.8375 * 82,
        transform: 'translateX(-50%)',
        fontFamily: SERIF,
        fontSize: 82,
        lineHeight: '82px',
        color: '#000',
        whiteSpace: 'nowrap',
      }}
    >
      (<b>{letter}</b>)
    </div>
  );
}

export default function App() {
  return (
    <div
      style={{
        position: 'absolute',
        left: 0,
        top: 0,
        width: 3090,
        height: 3977,
        background: '#ffffff',
        overflow: 'hidden',
      }}
    >
      {FIGS.map((f, fi) => (
        <React.Fragment key={fi}>
          {[0, 1, 2, 3].map((i) => (
            <Panel key={i} fig={f} idx={i} />
          ))}
          <Strips fig={f} />
        </React.Fragment>
      ))}

      <YTitle cx={119} cy={488} />
      <YTitle cx={96} cy={1862} />

      <XTitle left={1243} baseline={1030} size={74}>
        PAR ( mol m<span style={supStyle('0.66em', 43)}>−2</span> day<span style={supStyle('0.66em', 43)}>−1</span>)
      </XTitle>
      <XTitle left={1516} baseline={2383} size={75}>
        Ta (°C)
      </XTitle>
      <XTitle left={1485} baseline={3717} size={75}>
        U ( m s<span style={supStyle('0.66em', 43)}>−1</span>)
      </XTitle>

      <FigLabel letter="a" baseline={1239} />
      <FigLabel letter="b" baseline={2580} />
      <FigLabel letter="c" baseline={3935} />
    </div>
  );
}
